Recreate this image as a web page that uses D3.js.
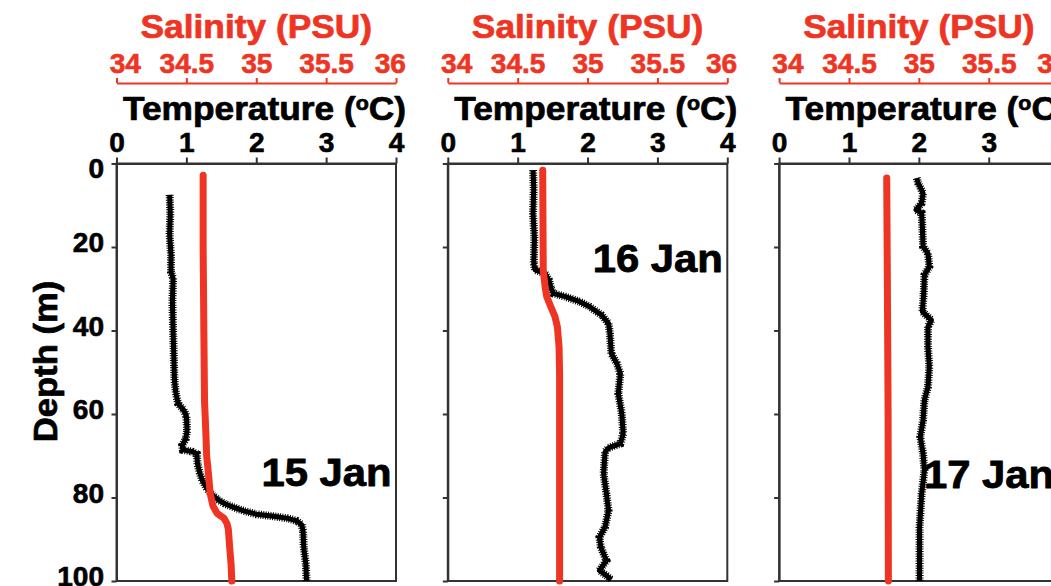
<!DOCTYPE html>
<html>
<head>
<meta charset="utf-8">
<script src="https://cdn.jsdelivr.net/npm/d3@7"></script>
<style>
  html, body { margin: 0; background: #fff; }
  svg { display: block; }
  text { font-family: "Liberation Sans", Arial, Helvetica, sans-serif; font-weight: bold; }
</style>
</head>
<body>
<svg id="chart" width="1051" height="586"></svg>
<script>
// CTD casts, each point is [depth (m), value]
const castDates = ["15 Jan", "16 Jan", "17 Jan"];

const temp15 = [[7.5,0.76],[12,0.77],[17,0.76],[22,0.78],[26,0.78],[27.5,0.81],[33,0.80],[40,0.81],[46,0.82],[52,0.83],
  [55,0.85],[57.5,0.88],[59,0.96],[60.5,1.00],[64,1.01],[66,0.99],[67.5,0.94],[68.6,0.95],[69,1.08],[69.6,1.15],
  [72,1.16],[74,1.19],[76,1.23],[78,1.30],[79.5,1.38],[80.5,1.45],[81.5,1.55],[82.3,1.67],[83.2,1.82],[84,2.00],
  [84.5,2.25],[85,2.45],[85.6,2.58],[86.5,2.65],[88,2.67],[92,2.68],[96,2.71],[100,2.72]];
const sal15 = [[2.8,34.62],[20,34.62],[40,34.625],[57,34.63],[65,34.64],[70,34.645],[75,34.66],[79,34.67],[82,34.69],
  [83.8,34.72],[85,34.77],[86.2,34.79],[87.5,34.80],[92,34.81],[96,34.82],[100,34.825]];

const temp16 = [[1.6,1.22],[6,1.23],[12,1.22],[18,1.24],[24,1.23],[25.5,1.25],[26.3,1.39],[28,1.45],[30,1.48],[31.1,1.51],
  [31.9,1.68],[33.1,1.89],[34.3,2.03],[36.3,2.20],[38.3,2.30],[40.7,2.32],[45.5,2.34],[47.9,2.42],[50.3,2.47],[55.1,2.44],
  [59.9,2.49],[64.7,2.51],[67.1,2.47],[68.1,2.30],[69.1,2.25],[74.3,2.23],[79.1,2.27],[83.1,2.30],[87.1,2.25],[89.5,2.17],
  [91.9,2.19],[95.1,2.27],[97.5,2.17],[98.7,2.27],[99.7,2.34]];
const sal16 = [[1.6,34.679],[25.5,34.683],[29.5,34.696],[31.9,34.708],[34.3,34.737],[36.7,34.767],[39.1,34.784],
  [43.9,34.796],[50.3,34.80],[71.1,34.80],[100,34.80]];

const temp17 = [[3.5,1.97],[4.7,1.99],[7.1,2.06],[9.5,2.04],[11.1,1.96],[11.9,2.04],[15.1,2.05],[19.9,2.06],[21.5,2.13],
  [24.7,2.15],[26.7,2.08],[31.1,2.07],[35.5,2.05],[37.5,2.18],[39.1,2.13],[43.9,2.13],[48.7,2.15],[53.5,2.13],[56.7,2.08],
  [61.5,2.06],[65.5,2.02],[69.5,2.06],[73.5,2.08],[79.1,2.04],[87.1,2.01],[100,2.01]];
const sal17 = [[3.5,34.77],[30,34.775],[60,34.78],[100,34.782]];

const tempSeries = [temp15, temp16, temp17];
const salSeries = [sal15, sal16, sal17];

const tempTicks = [0, 1, 2, 3, 4];
const salTicks = [34, 34.5, 35, 35.5, 36];
const depthTicks = [0, 20, 40, 60, 80, 100];

// layout
const panelLeft = [116.5, 447.8, 779.1];
const panelW = 279.5;
const plotTop = 163.5, plotBottom = 581;
const salAxisY = 83;
const dateLabelY = [486, 272, 488];
const red = "#ee3524";
const frameColor = "#333";
const titleStretch = "scale(1.07,1)";
const tickStretch = "scale(1.04,1)";

const svg = d3.select("#chart");
svg.append("rect").attr("width", 1051).attr("height", 586).attr("fill", "#fff");

const y = d3.scaleLinear().domain([0, 100]).range([plotTop, plotBottom]);

// heavier strokes on glyphs
function heavy(sel, color, w) {
  return sel.attr("stroke", color).attr("stroke-width", w).attr("stroke-linejoin", "round");
}

castDates.forEach((date, i) => {
  const x0 = panelLeft[i];
  const xT = d3.scaleLinear().domain([0, 4]).range([x0, x0 + panelW]);
  const xS = d3.scaleLinear().domain([34, 36]).range([x0, x0 + panelW]);
  const g = svg.append("g");

  // frame
  g.append("rect")
    .attr("x", x0).attr("y", plotTop)
    .attr("width", panelW).attr("height", plotBottom - plotTop)
    .attr("fill", "none").attr("stroke", frameColor).attr("stroke-width", 2);

  // temperature axis
  const tAx = g.append("g")
    .attr("transform", `translate(0,${plotTop})`)
    .call(d3.axisTop(xT).tickValues(tempTicks).tickSize(6).tickSizeOuter(0).tickPadding(6)
      .tickFormat(d3.format("d")))
    .attr("font-size", null).attr("font-family", null);
  tAx.select(".domain").attr("stroke", frameColor).attr("stroke-width", 2);
  tAx.selectAll(".tick line").attr("stroke", frameColor).attr("stroke-width", 2);
  heavy(tAx.selectAll(".tick text"), "#000", 0.6)
    .attr("font-size", 27).attr("fill", "#000")
    .attr("transform", tickStretch);

  // salinity axis
  const sAx = g.append("g")
    .attr("transform", `translate(0,${salAxisY})`)
    .call(d3.axisTop(xS).tickValues(salTicks).tickSize(5).tickSizeOuter(0).tickPadding(5)
      .tickFormat(d3.format("")))
    .attr("font-size", null).attr("font-family", null);
  sAx.select(".domain").attr("stroke", red).attr("stroke-width", 2);
  sAx.selectAll(".tick line").attr("stroke", red).attr("stroke-width", 2);
  heavy(sAx.selectAll(".tick text"), red, 0.6)
    .attr("font-size", 27).attr("fill", red)
    .attr("dx", d => d === 34 ? 8 : d === 36 ? -6 : 0)
    .attr("transform", tickStretch);

  // depth axis
  const dAx = g.append("g")
    .attr("transform", `translate(${x0},0)`)
    .call(d3.axisLeft(y).tickValues(depthTicks).tickSize(5).tickSizeOuter(0).tickPadding(7)
      .tickFormat(i === 0 ? d3.format("d") : () => ""))
    .attr("font-size", null).attr("font-family", null);
  dAx.select(".domain").attr("stroke", frameColor).attr("stroke-width", 2);
  dAx.selectAll(".tick line").attr("stroke", frameColor).attr("stroke-width", 2);
  heavy(dAx.selectAll(".tick text"), "#000", 0.6)
    .attr("font-size", 27).attr("fill", "#000")
    .attr("dy", d => d === 0 ? "0.5em" : "0.17em")
    .attr("transform", tickStretch);

  // axis titles
  heavy(g.append("text"), red, 0.7)
    .attr("transform", `translate(${x0 + panelW / 2},38) ${titleStretch}`)
    .attr("text-anchor", "middle").attr("font-size", 33).attr("fill", red)
    .text("Salinity (PSU)");

  const tt = heavy(g.append("text"), "#000", 0.7)
    .attr("transform", `translate(${x0 + 6.5},119.5) ${titleStretch}`)
    .attr("font-size", 33).attr("fill", "#000");
  tt.append("tspan").text("Temperature (");
  tt.append("tspan").attr("font-size", 20).attr("dy", -10).text("o");
  tt.append("tspan").attr("dy", 10).text("C)");

  // temperature profile (serrated edge + core)
  const lineT = d3.line().x(d => xT(d[1])).y(d => y(d[0]));
  g.append("path").datum(tempSeries[i]).attr("d", lineT)
    .attr("fill", "none").attr("stroke", "#000").attr("stroke-width", 8)
    .attr("stroke-dasharray", "1 1.4");
  g.append("path").datum(tempSeries[i]).attr("d", lineT)
    .attr("fill", "none").attr("stroke", "#000").attr("stroke-width", 5)
    .attr("stroke-linejoin", "round");

  // salinity profile
  const lineS = d3.line().x(d => xS(d[1])).y(d => y(d[0]));
  g.append("path").datum(salSeries[i]).attr("d", lineS)
    .attr("fill", "none").attr("stroke", red).attr("stroke-width", 7)
    .attr("stroke-linecap", "round").attr("stroke-linejoin", "round");

  // cast date
  heavy(g.append("text"), "#000", 0.8)
    .attr("transform", `translate(${x0 + 275},${dateLabelY[i]}) scale(1.1,1)`)
    .attr("text-anchor", "end").attr("font-size", 38).attr("fill", "#000")
    .text(date);
});

// depth title
heavy(svg.append("text"), "#000", 0.7)
  .attr("transform", "translate(57,361.5) rotate(-90) scale(1.05,1)")
  .attr("text-anchor", "middle").attr("font-size", 33).attr("fill", "#000")
  .text("Depth (m)");
</script>
</body>
</html>
